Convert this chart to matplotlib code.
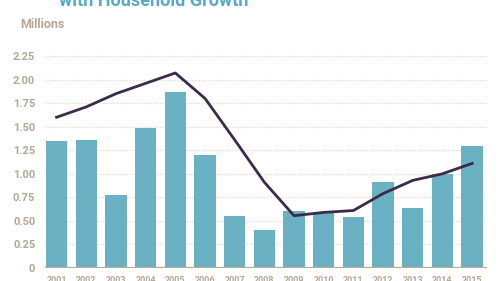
import matplotlib
matplotlib.use("Agg")
import matplotlib.pyplot as plt
import numpy as np

years = ["2001", "2002", "2003", "2004", "2005", "2006", "2007", "2008",
         "2009", "2010", "2011", "2012", "2013", "2014", "2015"]
household_growth = [1.35, 1.36, 0.78, 1.49, 1.87, 1.20, 0.55, 0.40,
                    0.61, 0.58, 0.545, 0.91, 0.64, 1.00, 1.30]
housing_starts = [1.60, 1.71, 1.85, 1.96, 2.07, 1.80, 1.36, 0.91,
                  0.555, 0.59, 0.61, 0.79, 0.93, 1.00, 1.11]
yticks = [0, 0.25, 0.5, 0.75, 1.0, 1.25, 1.5, 1.75, 2.0, 2.25]
ytick_labels = ["0", "0.25", "0.50", "0.75", "1.00", "1.25", "1.50", "1.75", "2.00", "2.25"]

FONT = ["Roboto", "DejaVu Sans"]

W, H = 500, 281
fig = plt.figure(figsize=(W / 100, H / 100), dpi=100)
fig.patch.set_facecolor("white")

ax_left, ax_right = 45, 487
ax_bottom, ax_top = 268, 51.3
ax = fig.add_axes([ax_left / W, 1 - ax_bottom / H,
                   (ax_right - ax_left) / W, (ax_bottom - ax_top) / H])
ax.set_facecolor("white")

x = np.arange(len(years))
ax.bar(x, household_growth, width=0.72, color="#6bb1c4", zorder=2)
ax.plot(x, housing_starts, color="#3b2a48", linewidth=2.0, zorder=3,
        solid_joinstyle="round")

ax.set_xlim(-0.39, 14.5)
ax.set_ylim(0, 2.3)

for v in yticks[1:]:
    ax.axhline(v, color="#e4ded6", linewidth=0.9, linestyle=(0, (1.2, 1.2)), zorder=1)
ax.axhline(0, color="#b9ab9c", linewidth=1.6, zorder=4)

for s in ax.spines.values():
    s.set_visible(False)

tick_color = "#b3a796"
ax.set_yticks(yticks)
ax.set_yticklabels(ytick_labels)
ax.set_xticks(x)
ax.set_xticklabels(years)
ax.tick_params(axis="both", length=0, colors=tick_color)
ax.tick_params(axis="y", pad=7, labelsize=8)
ax.tick_params(axis="x", pad=6, labelsize=6.5)
for lbl in ax.get_yticklabels() + ax.get_xticklabels():
    lbl.set_family(FONT)
    lbl.set_fontweight("bold")

fig.text(20 / W, 1 - 25 / H, "Millions", color=tick_color, fontsize=9,
         fontweight="bold", family=FONT, va="center", ha="left")
fig.text(59 / W, 1 - 6 / H, "with Household Growth", color="#55aac8",
         fontsize=13, fontweight="bold", family=FONT,
         va="baseline", ha="left")

fig.savefig("out.png", dpi=100, facecolor="white")
